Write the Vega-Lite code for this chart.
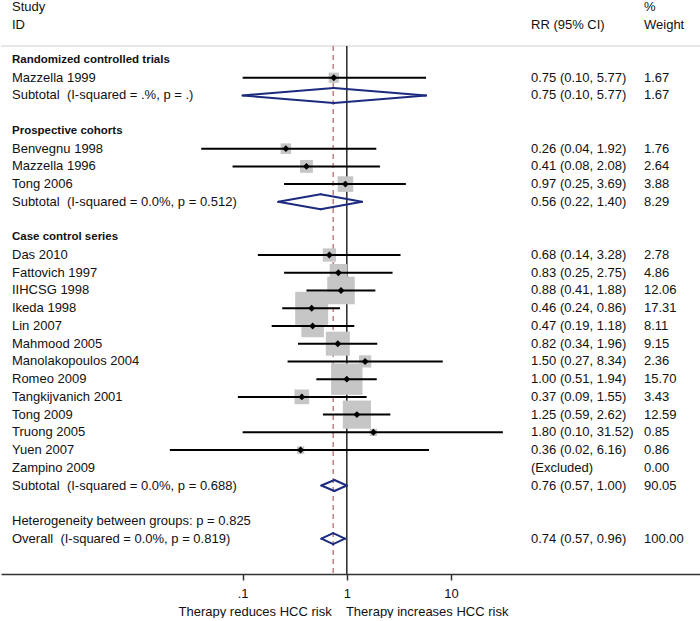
{
  "$schema": "https://vega.github.io/schema/vega-lite/v6.json",
  "width": 700,
  "height": 573,
  "padding": 0,
  "autosize": {"type": "pad"},
  "background": "white",
  "config": {"view": {"stroke": null}, "font": "Liberation Sans"},
  "data": {"values": [
    {"k": -3, "label": "Study", "wt": "%", "kind": "head"},
    {"k": -2, "label": "ID", "rr": "RR (95% CI)", "wt": "Weight", "kind": "head"},
    {"k": 0, "label": "Randomized controlled trials", "kind": "group"},
    {"k": 1, "label": "Mazzella 1999", "est": 0.75, "lo": 0.10, "hi": 5.77, "w": 1.67, "rr": "0.75 (0.10, 5.77)", "wt": "1.67", "kind": "study"},
    {"k": 2, "label": "Subtotal\u00a0 (I-squared = .%, p = .)", "est": 0.75, "lo": 0.10, "hi": 5.77, "w": 1.67, "rr": "0.75 (0.10, 5.77)", "wt": "1.67", "kind": "sub"},
    {"k": 4, "label": "Prospective cohorts", "kind": "group"},
    {"k": 5, "label": "Benvegnu 1998", "est": 0.26, "lo": 0.04, "hi": 1.92, "w": 1.76, "rr": "0.26 (0.04, 1.92)", "wt": "1.76", "kind": "study"},
    {"k": 6, "label": "Mazzella 1996", "est": 0.41, "lo": 0.08, "hi": 2.08, "w": 2.64, "rr": "0.41 (0.08, 2.08)", "wt": "2.64", "kind": "study"},
    {"k": 7, "label": "Tong 2006", "est": 0.97, "lo": 0.25, "hi": 3.69, "w": 3.88, "rr": "0.97 (0.25, 3.69)", "wt": "3.88", "kind": "study"},
    {"k": 8, "label": "Subtotal\u00a0 (I-squared = 0.0%, p = 0.512)", "est": 0.56, "lo": 0.22, "hi": 1.40, "w": 8.29, "rr": "0.56 (0.22, 1.40)", "wt": "8.29", "kind": "sub"},
    {"k": 10, "label": "Case control series", "kind": "group"},
    {"k": 11, "label": "Das 2010", "est": 0.68, "lo": 0.14, "hi": 3.28, "w": 2.78, "rr": "0.68 (0.14, 3.28)", "wt": "2.78", "kind": "study"},
    {"k": 12, "label": "Fattovich 1997", "est": 0.83, "lo": 0.25, "hi": 2.75, "w": 4.86, "rr": "0.83 (0.25, 2.75)", "wt": "4.86", "kind": "study"},
    {"k": 13, "label": "IIHCSG 1998", "est": 0.88, "lo": 0.41, "hi": 1.88, "w": 12.06, "rr": "0.88 (0.41, 1.88)", "wt": "12.06", "kind": "study"},
    {"k": 14, "label": "Ikeda 1998", "est": 0.46, "lo": 0.24, "hi": 0.86, "w": 17.31, "rr": "0.46 (0.24, 0.86)", "wt": "17.31", "kind": "study"},
    {"k": 15, "label": "Lin 2007", "est": 0.47, "lo": 0.19, "hi": 1.18, "w": 8.11, "rr": "0.47 (0.19, 1.18)", "wt": "8.11", "kind": "study"},
    {"k": 16, "label": "Mahmood 2005", "est": 0.82, "lo": 0.34, "hi": 1.96, "w": 9.15, "rr": "0.82 (0.34, 1.96)", "wt": "9.15", "kind": "study"},
    {"k": 17, "label": "Manolakopoulos 2004", "est": 1.50, "lo": 0.27, "hi": 8.34, "w": 2.36, "rr": "1.50 (0.27, 8.34)", "wt": "2.36", "kind": "study"},
    {"k": 18, "label": "Romeo 2009", "est": 1.00, "lo": 0.51, "hi": 1.94, "w": 15.70, "rr": "1.00 (0.51, 1.94)", "wt": "15.70", "kind": "study"},
    {"k": 19, "label": "Tangkijvanich 2001", "est": 0.37, "lo": 0.09, "hi": 1.55, "w": 3.43, "rr": "0.37 (0.09, 1.55)", "wt": "3.43", "kind": "study"},
    {"k": 20, "label": "Tong 2009", "est": 1.25, "lo": 0.59, "hi": 2.62, "w": 12.59, "rr": "1.25 (0.59, 2.62)", "wt": "12.59", "kind": "study"},
    {"k": 21, "label": "Truong 2005", "est": 1.80, "lo": 0.10, "hi": 31.52, "w": 0.85, "rr": "1.80 (0.10, 31.52)", "wt": "0.85", "kind": "study"},
    {"k": 22, "label": "Yuen 2007", "est": 0.36, "lo": 0.02, "hi": 6.16, "w": 0.86, "rr": "0.36 (0.02, 6.16)", "wt": "0.86", "kind": "study"},
    {"k": 23, "label": "Zampino 2009", "w": 0, "rr": "(Excluded)", "wt": "0.00", "kind": "study"},
    {"k": 24, "label": "Subtotal\u00a0 (I-squared = 0.0%, p = 0.688)", "est": 0.76, "lo": 0.57, "hi": 1.00, "w": 90.05, "rr": "0.76 (0.57, 1.00)", "wt": "90.05", "kind": "sub"},
    {"k": 26, "label": "Heterogeneity between groups: p = 0.825", "kind": "het"},
    {"k": 27, "label": "Overall\u00a0 (I-squared = 0.0%, p = 0.819)", "est": 0.74, "lo": 0.57, "hi": 0.96, "w": 100.00, "rr": "0.74 (0.57, 0.96)", "wt": "100.00", "kind": "overall"}
  ]},
  "encoding": {
    "y": {"field": "k", "type": "quantitative", "scale": {"domain": [-3.328, 28.99], "reverse": true, "nice": false, "zero": false}, "axis": null}
  },
  "layer": [
    {
      "transform": [{"filter": "datum.kind == 'overall'"}],
      "mark": {"type": "rule", "color": "#cfcfcf", "strokeWidth": 1},
      "encoding": {"y": {"datum": -0.79, "type": "quantitative"}}
    },
    {
      "transform": [{"filter": "datum.kind == 'overall'"}],
      "mark": {"type": "rule", "color": "#333333", "strokeWidth": 1.6},
      "encoding": {
        "x": {"datum": 1, "type": "quantitative",
          "scale": {"type": "log", "domain": [0.0004784, 2517], "nice": false},
          "axis": {
            "values": [0.1, 1, 10],
            "labelExpr": "datum.value < 0.5 ? '.1' : (datum.value < 5 ? '1' : '10')",
            "grid": false,
            "title": "Therapy reduces HCC risk\u00a0\u00a0\u00a0 Therapy increases HCC risk",
            "titleFontWeight": "normal", "titleFontSize": 13, "labelFontSize": 13,
            "titleFont": "Liberation Sans", "labelFont": "Liberation Sans",
            "labelColor": "#111111", "titleColor": "#111111",
            "domainColor": "#333333", "domainWidth": 1.5,
            "tickColor": "#333333", "tickWidth": 1.5, "tickSize": 6,
            "labelPadding": 7, "titlePadding": 5, "labelFlush": false, "titleX": 342
          }
        },
        "y": {"datum": -0.79, "type": "quantitative"},
        "y2": {"datum": 29, "type": "quantitative"}
      }
    },
    {
      "transform": [{"filter": "datum.kind == 'overall'"}],
      "mark": {"type": "rule", "color": "#b06060", "strokeWidth": 1.2, "strokeDash": [5, 4]},
      "encoding": {
        "x": {"field": "est", "type": "quantitative"},
        "y": {"datum": -0.79, "type": "quantitative"},
        "y2": {"datum": 29, "type": "quantitative"}
      }
    },
    {
      "transform": [{"filter": "datum.kind == 'study' && datum.w > 0"}],
      "mark": {"type": "point", "shape": "square", "filled": true, "color": "#c6c6c6", "opacity": 1, "strokeWidth": 0},
      "encoding": {
        "x": {"field": "est", "type": "quantitative"},
        "size": {"field": "w", "type": "quantitative", "scale": {"type": "linear", "domain": [0, 100], "range": [0, 6290], "zero": true}, "legend": null}
      }
    },
    {
      "transform": [{"filter": "datum.kind == 'study' && datum.w > 0"}],
      "mark": {"type": "rule", "color": "#000000", "strokeWidth": 2},
      "encoding": {
        "x": {"field": "lo", "type": "quantitative"},
        "x2": {"field": "hi"}
      }
    },
    {
      "transform": [{"filter": "datum.kind == 'study' && datum.w > 0"}],
      "mark": {"type": "point", "shape": "diamond", "filled": true, "color": "#000000", "opacity": 1, "size": 48, "strokeWidth": 0},
      "encoding": {
        "x": {"field": "est", "type": "quantitative"}
      }
    },
    {
      "transform": [{"filter": "(datum.kind == 'sub' || datum.kind == 'overall') && datum.hi / datum.lo > 2"}],
      "layer": [
        {"mark": {"type": "rule", "color": "#1c2a80", "strokeWidth": 2, "strokeCap": "round", "y2Offset": -7.5},
         "encoding": {"x": {"field": "lo", "type": "quantitative"}, "x2": {"field": "est"}, "y2": {"field": "k"}}},
        {"mark": {"type": "rule", "color": "#1c2a80", "strokeWidth": 2, "strokeCap": "round", "yOffset": -7.5},
         "encoding": {"x": {"field": "est", "type": "quantitative"}, "x2": {"field": "hi"}, "y2": {"field": "k"}}},
        {"mark": {"type": "rule", "color": "#1c2a80", "strokeWidth": 2, "strokeCap": "round", "y2Offset": 7.5},
         "encoding": {"x": {"field": "hi", "type": "quantitative"}, "x2": {"field": "est"}, "y2": {"field": "k"}}},
        {"mark": {"type": "rule", "color": "#1c2a80", "strokeWidth": 2, "strokeCap": "round", "yOffset": 7.5},
         "encoding": {"x": {"field": "est", "type": "quantitative"}, "x2": {"field": "lo"}, "y2": {"field": "k"}}}
      ]
    },
    {
      "transform": [{"filter": "(datum.kind == 'sub' || datum.kind == 'overall') && datum.hi / datum.lo <= 2"}],
      "layer": [
        {"mark": {"type": "rule", "color": "#1c2a80", "strokeWidth": 2, "strokeCap": "round", "y2Offset": -5.5},
         "encoding": {"x": {"field": "lo", "type": "quantitative"}, "x2": {"field": "est"}, "y2": {"field": "k"}}},
        {"mark": {"type": "rule", "color": "#1c2a80", "strokeWidth": 2, "strokeCap": "round", "yOffset": -5.5},
         "encoding": {"x": {"field": "est", "type": "quantitative"}, "x2": {"field": "hi"}, "y2": {"field": "k"}}},
        {"mark": {"type": "rule", "color": "#1c2a80", "strokeWidth": 2, "strokeCap": "round", "y2Offset": 5.5},
         "encoding": {"x": {"field": "hi", "type": "quantitative"}, "x2": {"field": "est"}, "y2": {"field": "k"}}},
        {"mark": {"type": "rule", "color": "#1c2a80", "strokeWidth": 2, "strokeCap": "round", "yOffset": 5.5},
         "encoding": {"x": {"field": "est", "type": "quantitative"}, "x2": {"field": "lo"}, "y2": {"field": "k"}}}
      ]
    },
    {
      "transform": [{"filter": "datum.kind != 'group' && isValid(datum.label)"}],
      "mark": {"type": "text", "align": "left", "baseline": "middle", "fontSize": 13, "font": "Liberation Sans", "color": "#111111"},
      "encoding": {
        "x": {"datum": 0.00061, "type": "quantitative"},
        "text": {"field": "label"}
      }
    },
    {
      "transform": [{"filter": "datum.kind == 'group'"}],
      "mark": {"type": "text", "align": "left", "baseline": "middle", "fontSize": 11.5, "fontWeight": "bold", "font": "Liberation Sans", "color": "#111111"},
      "encoding": {
        "x": {"datum": 0.00061, "type": "quantitative"},
        "text": {"field": "label"}
      }
    },
    {
      "transform": [{"filter": "isValid(datum.rr)"}],
      "mark": {"type": "text", "align": "left", "baseline": "middle", "fontSize": 13, "font": "Liberation Sans", "color": "#111111"},
      "encoding": {
        "x": {"datum": 58.7, "type": "quantitative"},
        "text": {"field": "rr"}
      }
    },
    {
      "transform": [{"filter": "isValid(datum.wt)"}],
      "mark": {"type": "text", "align": "left", "baseline": "middle", "fontSize": 13, "font": "Liberation Sans", "color": "#111111"},
      "encoding": {
        "x": {"datum": 714, "type": "quantitative"},
        "text": {"field": "wt"}
      }
    }
  ]
}
